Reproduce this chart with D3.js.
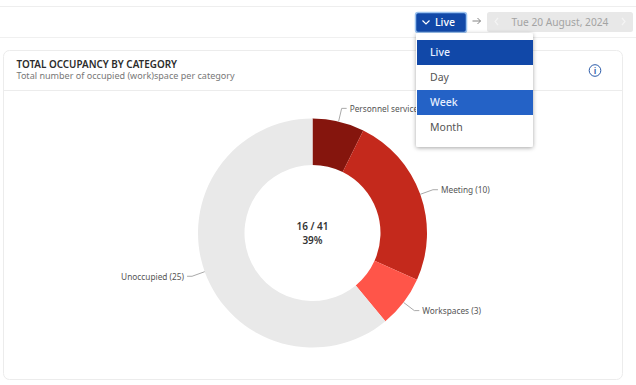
<!DOCTYPE html>
<html><head><meta charset="utf-8">
<script src="https://cdnjs.cloudflare.com/ajax/libs/d3/7.8.5/d3.min.js"></script>
<style>html,body{margin:0;padding:0;background:#fff;overflow:hidden}svg{display:block}</style>
</head><body><svg id="c" width="636" height="385"></svg>
<script>
const categories=["Personnel services","Meeting","Workspaces","Unoccupied"];
const values=[3,10,3,25];
const colors=["#85150d","#c4291c","#ff5549","#e9e9e9"];
const menuItems=["Live","Day","Week","Month"];
const title="TOTAL OCCUPANCY BY CATEGORY";
const subtitle="Total number of occupied (work)space per category";
const dateLabel="Tue 20 August, 2024";
const occupied=16,total=41,pct="39%";

const F="'Noto Sans',sans-serif";
const svg=d3.select("#c");
const t=(x,y,s,size,fill,w,anchor)=>svg.append("text").attr("x",x).attr("y",y).text(s)
  .attr("font-family",F).attr("font-size",size).attr("fill",fill).attr("font-weight",w||400).attr("text-anchor",anchor||"start");

// page chrome
svg.append("line").attr("x1",0).attr("x2",636).attr("y1",6.5).attr("y2",6.5).attr("stroke","#eeeeee");
svg.append("line").attr("x1",0).attr("x2",636).attr("y1",37.5).attr("y2",37.5).attr("stroke","#f0f0f0");
// card
svg.append("rect").attr("x",3.5).attr("y",50.5).attr("width",619).attr("height",329).attr("rx",6).attr("fill","#fff").attr("stroke","#ececec");
svg.append("line").attr("x1",4).attr("x2",622).attr("y1",90.5).attr("y2",90.5).attr("stroke","#ececec");
t(16.5,68,title,9.9,"#2b2b2b",600);
t(16.5,79,subtitle,9.05,"#777");
// info icon
svg.append("circle").attr("cx",595).attr("cy",70.5).attr("r",5.8).attr("fill","none").attr("stroke","#2a5aa8").attr("stroke-width",1);
t(595,74,"i",9,"#2a5aa8",600,"middle");

// donut
const cx=312.5,cy=233,R=114.5,r=68,rLine=128;
const g=svg.append("g").attr("transform",`translate(${cx},${cy})`);
const pie=d3.pie().sort(null).value(d=>d)(values);
const arc=d3.arc().innerRadius(r).outerRadius(R);
g.selectAll("path.s").data(pie).join("path").attr("class","s").attr("d",arc).attr("fill",(d,i)=>colors[i]);
const pt=(a,rad)=>[Math.sin(a)*rad,-Math.cos(a)*rad];
pie.forEach((d,i)=>{
  const a=(d.startAngle+d.endAngle)/2,p0=pt(a,R),p1=pt(a,rLine),right=a<Math.PI,dir=right?1:-1;
  const p2=[p1[0]+dir*5,p1[1]];
  g.append("path").attr("d",d3.line()([p0,p1,p2])).attr("fill","none").attr("stroke","#aaa").attr("stroke-width",1);
  g.append("text").attr("x",p2[0]+dir*3).attr("y",p2[1]+3.5).attr("text-anchor",right?"start":"end")
    .attr("font-family",F).attr("font-size",8.3).attr("fill","#555").text(`${categories[i]} (${d.data})`);
});
t(cx,230,`${occupied} / ${total}`,10,"#333",600,"middle");
t(cx,244,pct,10,"#333",600,"middle");

// top controls
svg.append("rect").attr("x",415.5).attr("y",12.5).attr("width",51).attr("height",20).attr("rx",2.5).attr("fill","#1148a8").attr("stroke","#9cc3f0").attr("stroke-width",1.5);
svg.append("path").attr("d","M422.5 20.5l3.5 3.5l3.5-3.5").attr("fill","none").attr("stroke","#fff").attr("stroke-width",1.2);
t(435,26,"Live",10.5,"#fff",500);
svg.append("path").attr("d","M472.5 21h8m-3-3l3 3l-3 3").attr("fill","none").attr("stroke","#777").attr("stroke-width",.9);
svg.append("rect").attr("x",487).attr("y",12).attr("width",146).attr("height",20).attr("rx",2.5).attr("fill","#e8e8e8");
t(560,25.5,dateLabel,10.2,"#a3a3a3",400,"middle");
svg.append("path").attr("d","M498 18l-3 3.5l3 3.5M622 18l3 3.5l-3 3.5").attr("fill","none").attr("stroke","#f4f4f4").attr("stroke-width",1.2);

// dropdown
const defs=svg.append("defs");
const fl=defs.append("filter").attr("id","sh").attr("x","-10%").attr("y","-10%").attr("width","120%").attr("height","125%");
fl.append("feDropShadow").attr("dx",0).attr("dy",1).attr("stdDeviation",2).attr("flood-color","#000").attr("flood-opacity",.35);
svg.append("rect").attr("x",416).attr("y",33).attr("width",117).attr("height",114).attr("rx",2).attr("fill","#fff").attr("filter","url(#sh)");
const rowFill=["#1148a8",null,"#2462c6",null],rowText=["#e8f0ff","#555","#e8f0ff","#555"];
menuItems.forEach((m,i)=>{
  const y=40+i*25;
  if(rowFill[i])svg.append("rect").attr("x",417).attr("y",y).attr("width",116).attr("height",25).attr("fill",rowFill[i]);
  t(430,y+16,m,10.5,rowText[i],i%2?400:500);
});
</script></body></html>
